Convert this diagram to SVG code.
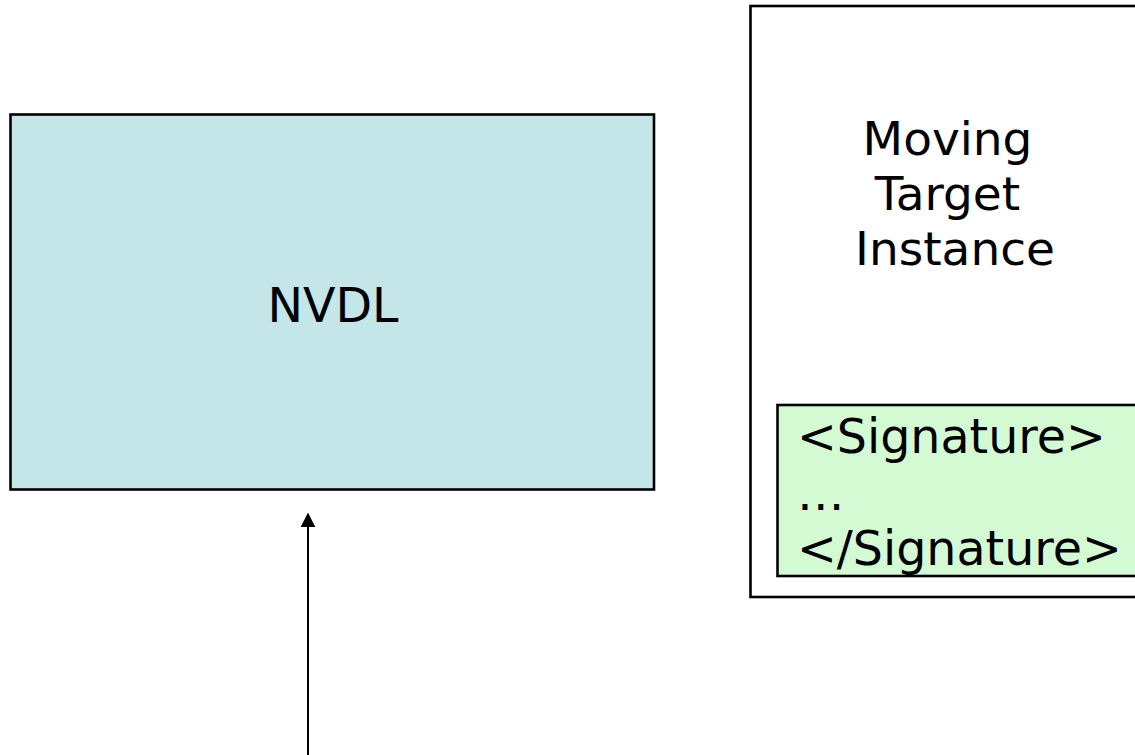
<svg xmlns="http://www.w3.org/2000/svg" width="1135" height="755" viewBox="0 0 1135 755">
  <style>
    .box { stroke: #000; stroke-width: 2.6; }
    .label { font-family: "DejaVu Sans", Verdana, sans-serif; fill: #000; }
  </style>
  <rect width="1135" height="755" fill="#fff"/>

  <g id="nvdl">
    <rect class="box" x="10.5" y="114.5" width="643.5" height="375" fill="#C5E6E8"/>
    <text class="label" x="333" y="322" font-size="47.5" text-anchor="middle">NVDL</text>
  </g>

  <g id="target-instance">
    <rect class="box" x="750.5" y="6" width="410" height="591" fill="#fff"/>
    <text class="label" font-size="47" text-anchor="middle">
      <tspan x="955" y="155">Moving</tspan>
      <tspan x="955" y="210">Target</tspan>
      <tspan x="955" y="265">Instance</tspan>
    </text>
  </g>

  <g id="signature">
    <rect class="box" x="777.5" y="405" width="380" height="171" fill="#D4FAD4"/>
    <text class="label" font-size="47.5">
      <tspan x="797" y="453">&lt;Signature&gt;</tspan>
      <tspan x="797" y="510">…</tspan>
      <tspan x="797" y="565">&lt;/Signature&gt;</tspan>
    </text>
  </g>

  <g id="connectors">
    <line x1="308" y1="755" x2="308" y2="527" stroke="#000" stroke-width="2"/>
    <path d="M308,512.5 L315.3,527 L300.7,527 z" fill="#000"/>
  </g>
</svg>
